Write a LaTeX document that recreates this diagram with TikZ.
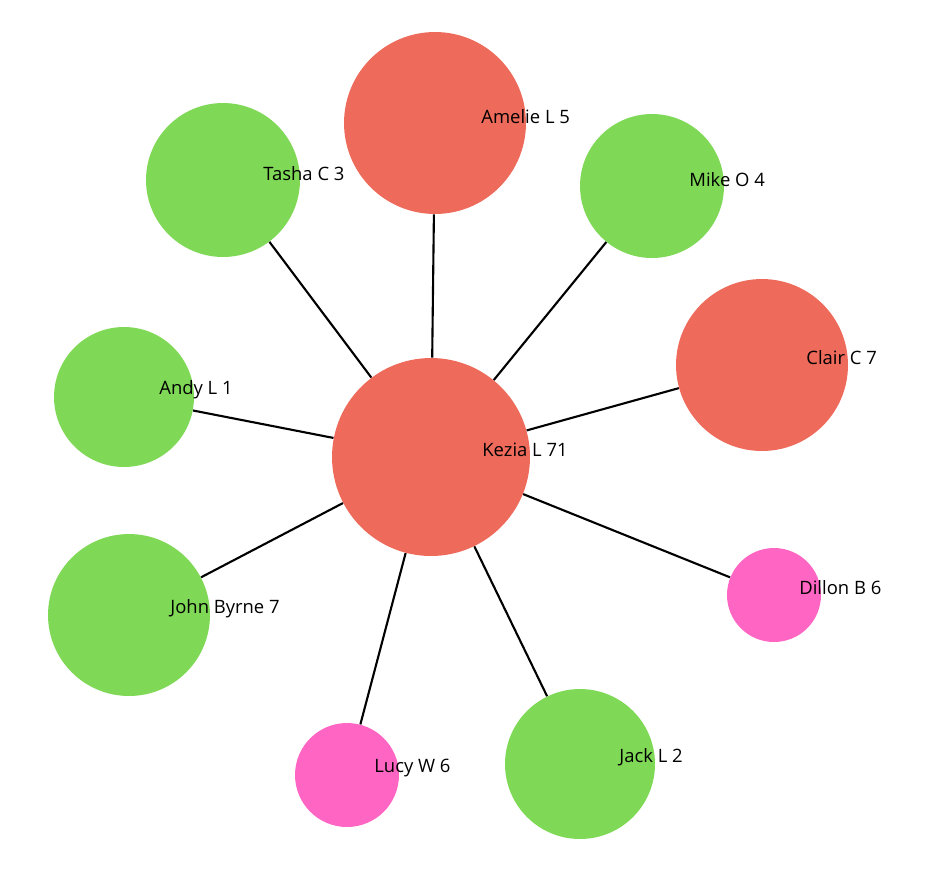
\documentclass[tikz,border=0pt]{standalone}
\usepackage{fontspec}
\setmainfont{Open Sans}
\usetikzlibrary{positioning}
\definecolor{hub}{HTML}{EE6A5B}
\definecolor{leaf}{HTML}{7FD957}
\definecolor{pinkish}{HTML}{FF66C4}
\begin{document}
\begin{tikzpicture}[x=0.02cm, y=-0.02cm,
person/.style={circle, draw=none, inner sep=0pt},
tag/.style={anchor=west, font=\fontsize{10.5}{12}\selectfont, inner sep=0pt},
link/.style={draw=black, line width=1.2pt}]

\useasboundingbox (0,0) rectangle (949,873);

\node[person, fill=hub, minimum size=3.96cm]     (K) at (431,457) {};
\node[person, fill=hub, minimum size=3.64cm]     (Am) at (435,123) {};
\node[person, fill=leaf, minimum size=3.08cm]    (T) at (223,180) {};
\node[person, fill=leaf, minimum size=2.88cm]    (M) at (652,186) {};
\node[person, fill=hub, minimum size=3.44cm]     (C) at (762,365) {};
\node[person, fill=leaf, minimum size=2.80cm]    (An) at (124,397) {};
\node[person, fill=leaf, minimum size=3.24cm]    (J) at (129,615) {};
\node[person, fill=pinkish, minimum size=2.08cm] (L) at (347,775) {};
\node[person, fill=leaf, minimum size=3.00cm]    (Ja) at (580,764) {};
\node[person, fill=pinkish, minimum size=1.88cm] (D) at (774,595) {};

\path[link]
 (K) -- (Am)
 (K) -- (T)
 (K) -- (M)
 (K) -- (C)
 (K) -- (An)
 (K) -- (J)
 (K) -- (L)
 (K) -- (Ja)
 (K) -- (D);

\node[tag] (kl) at (482,450) {Kezia L 71};
\node[tag] (aml) at (481,117) {Amelie L 5};
\node[tag] (tl) at (263,174) {Tasha C 3};
\node[tag] (ml) at (689,180) {Mike O 4};
\node[tag] (cl) at (806,358) {Clair C 7};
\node[tag] (anl) at (159,390) {Andy L 1};
\node[tag] (jl) at (170,609) {John Byrne 7};
\node[tag] (ll) at (374,768) {Lucy W 6};
\node[tag] (jal) at (619,757) {Jack L 2};
\node[tag] (dl) at (799,588) {Dillon B 6};

\end{tikzpicture}
\end{document}
